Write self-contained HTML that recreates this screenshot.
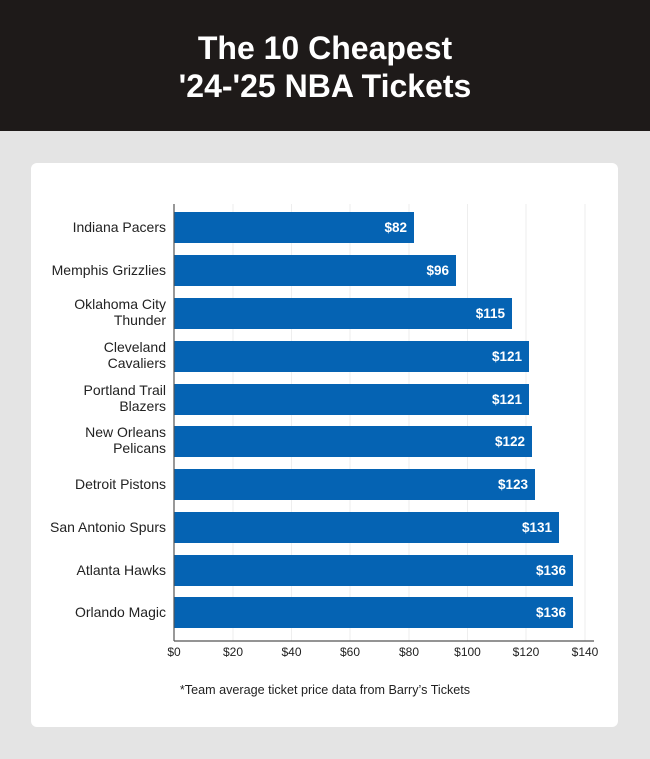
<!DOCTYPE html>
<html><head><style>
body{margin:0;width:650px;height:759px;background:#e4e4e4;font-family:"Liberation Sans",sans-serif;position:relative;overflow:hidden}
.hd{position:absolute;left:0;top:0;width:650px;height:131px;background:#1e1a19;color:#fff;text-align:center;font-weight:bold;font-size:32px;line-height:38px;padding-top:29px;box-sizing:border-box}
.card{position:absolute;left:31px;top:163px;width:587px;height:564px;background:#fff;border-radius:6px}
</style></head><body>
<div class="hd">The 10 Cheapest<br>'24-'25 NBA Tickets</div>
<div class="card"></div>
<svg width="650" height="759" style="position:absolute;left:0;top:0" font-family="Liberation Sans, sans-serif">
<g stroke="#eeeeee" stroke-width="1">
<line x1="233" y1="204" x2="233" y2="641"/><line x1="291.5" y1="204" x2="291.5" y2="641"/><line x1="350" y1="204" x2="350" y2="641"/><line x1="409" y1="204" x2="409" y2="641"/><line x1="467.5" y1="204" x2="467.5" y2="641"/><line x1="526" y1="204" x2="526" y2="641"/><line x1="585" y1="204" x2="585" y2="641"/>
</g>
<g fill="#0563b3">
<rect x="174" y="212" width="240" height="31"/>
<rect x="174" y="255" width="282" height="31"/>
<rect x="174" y="298" width="338" height="31"/>
<rect x="174" y="341" width="355" height="31"/>
<rect x="174" y="384" width="355" height="31"/>
<rect x="174" y="426" width="358" height="31"/>
<rect x="174" y="469" width="361" height="31"/>
<rect x="174" y="512" width="385" height="31"/>
<rect x="174" y="555" width="399" height="31"/>
<rect x="174" y="597" width="399" height="31"/>
</g>
<g fill="#fff" font-weight="bold" font-size="13.5" text-anchor="end">
<text x="407" y="232">$82</text><text x="449" y="275">$96</text><text x="505" y="318">$115</text><text x="522" y="361">$121</text><text x="522" y="404">$121</text><text x="525" y="446">$122</text><text x="528" y="489">$123</text><text x="552" y="532">$131</text><text x="566" y="575">$136</text><text x="566" y="617">$136</text>
</g>
<g fill="#222" font-size="14" text-anchor="end">
<text x="166" y="232">Indiana Pacers</text>
<text x="166" y="275">Memphis Grizzlies</text>
<text x="166" y="309">Oklahoma City</text><text x="166" y="325">Thunder</text>
<text x="166" y="352">Cleveland</text><text x="166" y="368">Cavaliers</text>
<text x="166" y="395">Portland Trail</text><text x="166" y="411">Blazers</text>
<text x="166" y="437">New Orleans</text><text x="166" y="453">Pelicans</text>
<text x="166" y="489">Detroit Pistons</text>
<text x="166" y="532">San Antonio Spurs</text>
<text x="166" y="575">Atlanta Hawks</text>
<text x="166" y="617">Orlando Magic</text>
</g>
<line x1="174" y1="204" x2="174" y2="641" stroke="#555" stroke-width="1.2"/>
<line x1="174" y1="641" x2="594" y2="641" stroke="#555" stroke-width="1.2"/>
<g fill="#222" font-size="12" text-anchor="middle">
<text x="174" y="656">$0</text><text x="233" y="656">$20</text><text x="291.5" y="656">$40</text><text x="350" y="656">$60</text><text x="409" y="656">$80</text><text x="467.5" y="656">$100</text><text x="526" y="656">$120</text><text x="585" y="656">$140</text>
</g>
<text x="325" y="694" text-anchor="middle" font-size="12.6" fill="#222">*Team average ticket price data from Barry’s Tickets</text>
</svg>
</body></html>
